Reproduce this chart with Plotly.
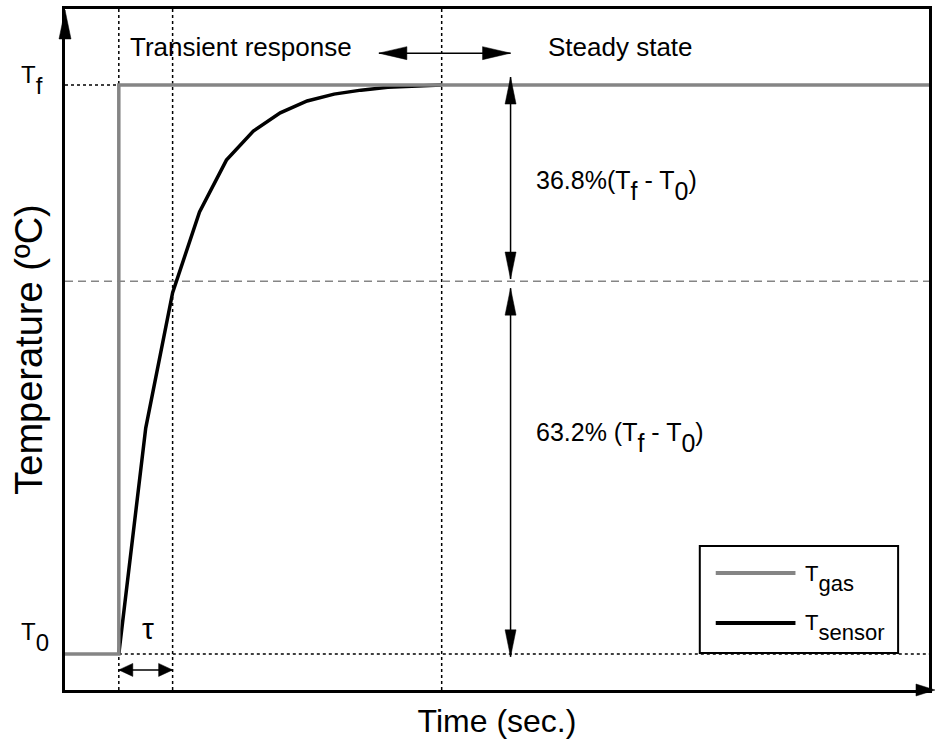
import plotly.graph_objects as go

# ---------------- data (normalised units: T0 = 0, Tf = 1, tau = 1) ----------------
time_gas = [-1.0, 0.0, 0.0, 15.1]
temp_gas = [0.0, 0.0, 1.0, 1.0]
time_sensor = [0, 0.5, 1, 1.5, 2, 2.5, 3, 3.5, 4, 4.5, 5, 5.5, 6]
temp_sensor = [0, 0.397, 0.635, 0.777, 0.868, 0.919, 0.951, 0.972, 0.984, 0.991, 0.996, 0.998, 1.0]
T0, Tf = 0.0, 1.0
tau = 1.0
t_steady = 6.0
level_632 = 0.655
x_range = [-1.0, 15.056]
y_range = [-0.0633, 1.1336]

# ---------------- layout geometry ----------------
W, H = 938, 753
ML, MR, MT, MB = 65, 6, 9, 63
PW, PH = W - ML - MR, H - MT - MB
FONT = "Liberation Sans, Arial, Helvetica, sans-serif"
GRAY = "#858585"


def xp(px):
    return (px - ML) / PW


def yp(py):
    return (H - MB - py) / PH


def sub(s, size):
    # full-size subscript shifted down ~0.45em (three nested <sub> shifts)
    return f"<sub><sub><sub><span style='font-size:{size}px'>{s}</span></sub></sub></sub>"


fig = go.Figure()
fig.add_trace(go.Scatter(x=time_sensor, y=temp_sensor, mode="lines", name="T sensor",
                         line=dict(color="black", width=3.5), showlegend=False))
fig.add_trace(go.Scatter(x=time_gas, y=temp_gas, mode="lines", name="T gas",
                         line=dict(color=GRAY, width=3.5), showlegend=False))

shapes = []
# reference lines
dot = dict(color="black", width=1.5, dash="dot")
for xv in (0.0, tau, t_steady):
    shapes.append(dict(type="line", xref="x", yref="paper", x0=xv, x1=xv, y0=0, y1=1, line=dot, layer="below"))
shapes.append(dict(type="line", xref="x", yref="y", x0=x_range[0], x1=0, y0=Tf, y1=Tf, line=dot, layer="below"))
shapes.append(dict(type="line", xref="x", yref="y", x0=0, x1=x_range[1], y0=T0, y1=T0, line=dot, layer="below"))
shapes.append(dict(type="line", xref="paper", yref="y", x0=0, x1=1, y0=level_632, y1=level_632,
                   line=dict(color=GRAY, width=1.5, dash="8px,5px"), layer="below"))


def head(xa, ya, dx, dy, L, Wd, ref=("x", "y")):
    bx, by = -L * dx, -L * dy
    px_, py_ = -dy, dx
    path = (f"M0,0 L{bx + Wd * px_:.2f},{by + Wd * py_:.2f} "
            f"L{bx - Wd * px_:.2f},{by - Wd * py_:.2f} Z")
    return dict(type="path", xref=ref[0], yref=ref[1], xsizemode="pixel", ysizemode="pixel",
                xanchor=xa, yanchor=ya, path=path, fillcolor="black",
                line=dict(color="black", width=0.5))


def dbl_arrow(x0, y0, x1, y1, L, Wd, horizontal):
    shapes.append(dict(type="line", xref="x", yref="y", x0=x0, y0=y0, x1=x1, y1=y1,
                       line=dict(color="black", width=1.5)))
    if horizontal:
        shapes.append(head(x0, y0, -1, 0, L, Wd))
        shapes.append(head(x1, y1, 1, 0, L, Wd))
    else:
        shapes.append(head(x0, y0, 0, 1, L, Wd))
        shapes.append(head(x1, y1, 0, -1, L, Wd))


arrow_x = 7.28
dbl_arrow(4.833, 1.056, arrow_x, 1.056, 28, 6.5, True)          # transient <-> steady
dbl_arrow(arrow_x, 1.014, arrow_x, 0.659, 27, 5.5, False)       # 36.8 %
dbl_arrow(arrow_x, 0.643, arrow_x, -0.005, 27, 5.5, False)      # 63.2 %
dbl_arrow(0.0, -0.028, tau, -0.028, 14, 6.5, True)              # tau

# axis arrowheads
shapes.append(head(0, yp(10), 0, 1, 29, 6, ref=("paper", "paper")))
shapes.append(head(xp(938), 0, 1, 0, 19, 6, ref=("paper", "paper")))

# manual legend
shapes.append(dict(type="rect", xref="paper", yref="paper", x0=xp(702), x1=xp(901), y0=yp(653), y1=yp(546),
                   line=dict(color="black", width=2), fillcolor="white"))
shapes.append(dict(type="line", xref="paper", yref="paper", x0=xp(718), x1=xp(798), y0=yp(573), y1=yp(573),
                   line=dict(color=GRAY, width=4)))
shapes.append(dict(type="line", xref="paper", yref="paper", x0=xp(718), x1=xp(798), y0=yp(623), y1=yp(623),
                   line=dict(color="black", width=4)))

annotations = []


def txt(text, x, y, size, xanchor="center", yanchor="middle", family=FONT):
    annotations.append(dict(text=text, x=x, y=y, xref="paper", yref="paper", showarrow=False,
                            xanchor=xanchor, yanchor=yanchor,
                            font=dict(family=family, size=size, color="black")))


txt("Transient response", xp(242), yp(47), 26)
txt("Steady state", xp(622), yp(47), 26)
txt("36.8%(T" + sub("f", 25) + " - T" + sub("0", 25) + ")", xp(536), yp(185), 25, xanchor="left")
txt("63.2% (T" + sub("f", 25) + " - T" + sub("0", 25) + ")", xp(536), yp(437), 25, xanchor="left")
txt("\u03c4", xp(148), yp(628), 30)
txt("T" + sub("f", 24), xp(32), yp(80), 24)
txt("T" + sub("0", 24), xp(35), yp(637), 24)
txt("T" + sub("gas", 22), xp(806), yp(578), 22, xanchor="left")
txt("T" + sub("sensor", 22), xp(806), yp(627), 22, xanchor="left")

fig.update_layout(
    width=W, height=H,
    margin=dict(l=ML, r=MR, t=MT, b=MB, pad=0),
    paper_bgcolor="white", plot_bgcolor="white",
    font=dict(family=FONT, color="black"),
    showlegend=False,
    shapes=shapes, annotations=annotations,
    xaxis=dict(range=x_range, showgrid=False, zeroline=False, showticklabels=False, ticks="",
               showline=True, linecolor="black", linewidth=3, mirror=True,
               title=dict(text="Time (sec.)", font=dict(family=FONT, size=32), standoff=18)),
    yaxis=dict(range=y_range, showgrid=False, zeroline=False, showticklabels=False, ticks="",
               showline=True, linecolor="black", linewidth=3, mirror=True,
               title=dict(text="Temperature (\u00baC)", font=dict(family=FONT, size=38), standoff=8)),
)

fig.write_html("out.html")
